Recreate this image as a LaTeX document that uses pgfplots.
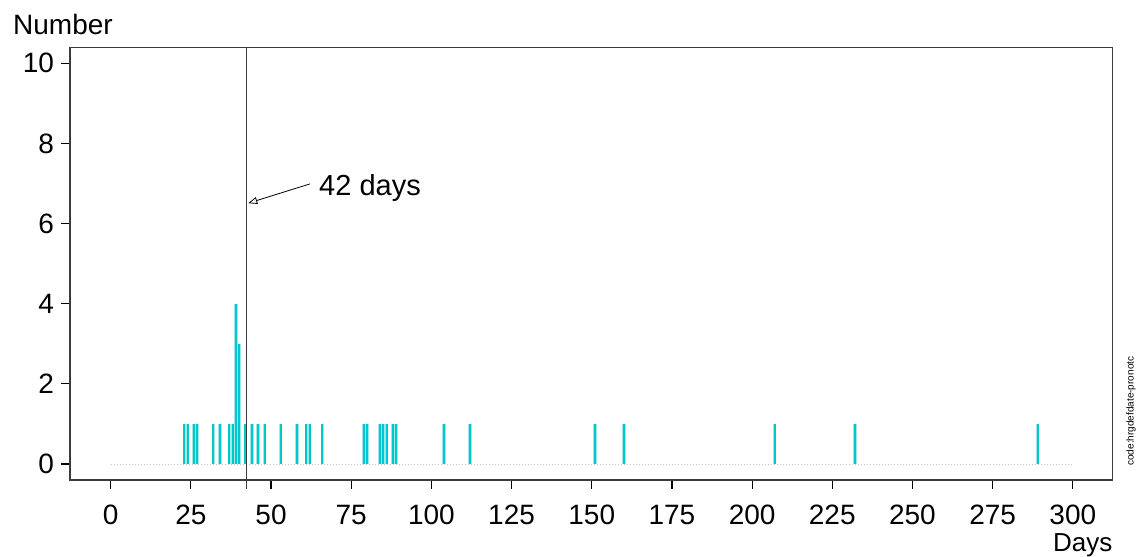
\documentclass[border=0pt]{standalone}
\usepackage{fontspec}
\setmainfont{Liberation Sans}
\usepackage{pgfplots}
\usepackage{pgfplotstable}
\pgfplotsset{compat=1.18}
\usetikzlibrary{arrows.meta}
\definecolor{barlight}{RGB}{160,232,232}
\definecolor{bardark}{RGB}{0,200,205}
\definecolor{framegray}{RGB}{60,60,60}
\pgfplotstableread{
day n
23 1
24 1
26 1
27 1
32 1
34 1
37 1
38 1
39 4
40 3
42 1
44 1
46 1
48 1
53 1
58 1
61 1
62 1
66 1
79 1
80 1
84 1
85 1
86 1
88 1
89 1
104 1
112 1
151 1
160 1
207 1
232 1
289 1
}\datatable
\begin{document}
\begin{tikzpicture}
\begin{axis}[
  scale only axis, width=521.35pt, height=216.15pt,
  xmin=-12.69, xmax=312.44, ymin=-0.399, ymax=10.39,
  xtick={0,25,...,300}, ytick={0,2,...,10},
  tick align=outside, major tick length=4.5pt,
  axis line style={framegray, line width=0.6pt},
  tick style={black, line width=0.6pt},
  xtick pos=bottom, ytick pos=left,
  ticklabel style={font=\fontsize{14}{16}\selectfont},
  xticklabel style={yshift=-4.5pt},
  /pgf/number format/assume math mode=true,
  clip=false,
]
\addplot[densely dotted, black!22, line width=0.5pt] coordinates {(0,0) (300,0)};
\addplot[ycomb, barlight, line width=1.8pt] table[x=day,y=n] {\datatable};
\addplot[ycomb, bardark, line width=1pt] table[x=day,y=n] {\datatable};
\addplot[framegray, line width=0.8pt] coordinates {(42.4,-0.62) (42.4,10.39)};
\draw[-{Triangle[open,length=4.5pt,width=3.5pt]}, line width=0.4pt] (axis cs:62.1,6.99) -- (axis cs:42.9,6.51);
\node[anchor=west, font=\fontsize{14.5}{16}\selectfont, inner sep=0pt] at (axis cs:64.9,6.89) {42 days};
\end{axis}
\node[anchor=base west, inner sep=0pt, font=\fontsize{14}{16}\selectfont] at ([shift={(-28.6pt,6.5pt)}]current axis.north west) {Number};
\node[anchor=base east, inner sep=0pt, font=\fontsize{13}{14}\selectfont] at ([shift={(0pt,-35.5pt)}]current axis.south east) {Days};
\node[anchor=west, rotate=90, inner sep=0pt, font=\fontsize{5}{6}\selectfont] at ([shift={(9.2pt,7pt)}]current axis.south east) {code:hrgdefdate-pronotc};
\path ([shift={(-35pt,-38pt)}]current axis.south west) rectangle ([shift={(14.15pt,23.85pt)}]current axis.north east);
\end{tikzpicture}
\end{document}
